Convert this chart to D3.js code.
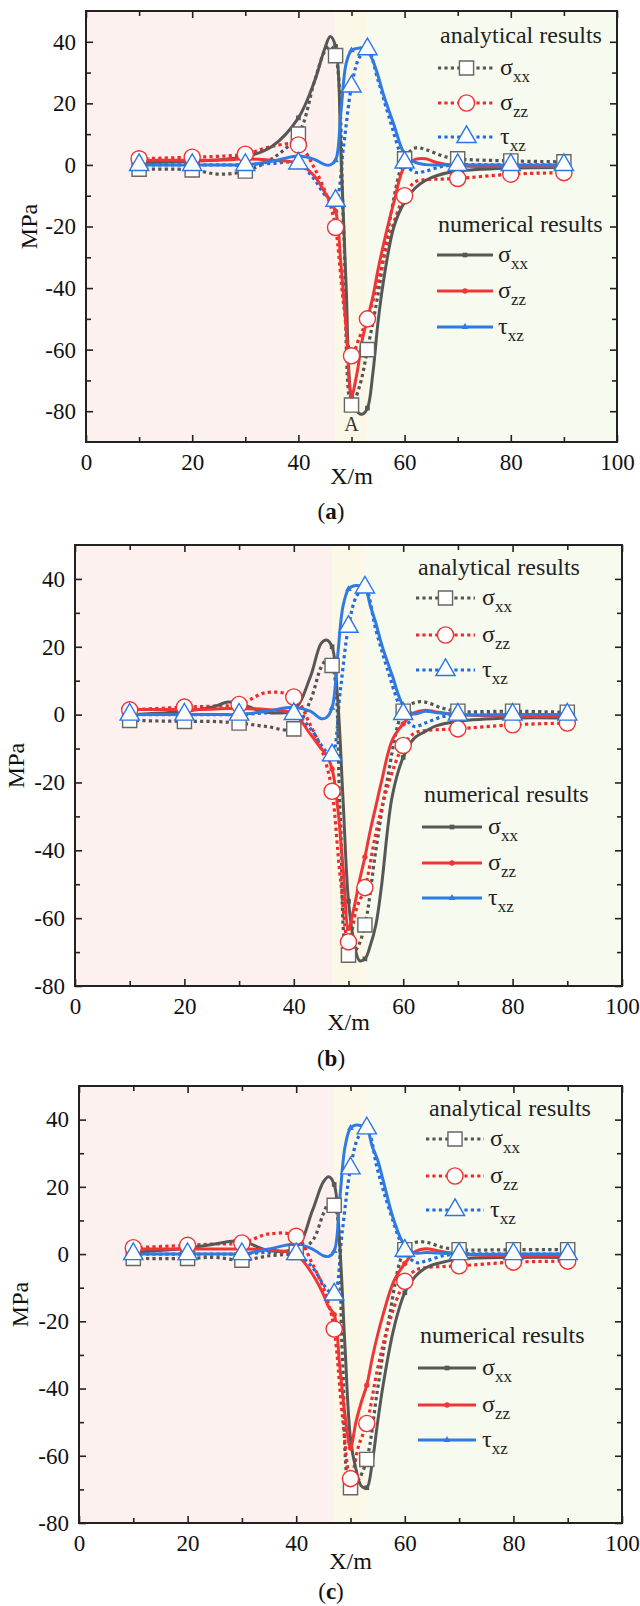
<!DOCTYPE html>
<html><head><meta charset="utf-8">
<script src="https://cdn.jsdelivr.net/npm/d3@7"></script>
<style>body{margin:0;background:#fff} svg{display:block}</style>
</head><body><svg id="c" width="640" height="1606"></svg>
<script>
// ---------- data ----------
const xMajor = [0, 20, 40, 60, 80, 100];
const xMinor = [10, 30, 50, 70, 90];
const bands = [[0, 47], [47, 53], [53, 100]];
const markerX = [10, 20, 30, 40, 47, 50, 53, 60, 70, 80, 90];

// numerical results (solid lines)
const numX = [10,20,25,28,30,35,40,43,45,46,47,48,49,50,51,52,53,54,55,56,58,60,62,64,66,70,80,90];
const aNumSxx = [0.8,1.2,1.6,2.2,2.6,6,15.3,27,38,41.7,38.5,4,-40,-76,-80,-81,-79,-68,-51,-38,-20,-12,-7.5,-5,-3.5,-2,-1,-0.8];
const aNumSzz = [1.5,1.5,1.6,1.8,2,1.5,0.5,-3.6,-9,-12,-15,-32,-53,-75,-68,-57,-50,-43,-34,-26,-12,-0.5,1.8,2,0.8,-0.3,-0.5,-0.5];
const aNumTxz = [0,0,0,0,0,1.2,2.9,1.8,0.1,0,1.5,17,33,37.2,37.8,38,37,34,29,23,13,3.5,0.8,0.1,0,0,0,0];

const bNumSxx = [0,1,2.2,3.7,3.3,0.7,1.5,11,21,22,20,5,-25,-55,-67,-72.5,-72,-68,-62,-51,-24,-12.6,-7,-5,-3.3,-2,-1,-1];
const bNumSzz = [1.5,1.5,1.6,1.8,1.8,1.5,0.3,-5.7,-10,-12,-16,-27,-45,-63,-57,-49,-42,-34,-27,-20,-7.5,-2.7,0.5,1.3,0.8,0,-0.5,-0.5];
const bNumTxz = [0,0,0,0,0,1,2.2,1,-1.2,-0.8,2,17,32,37,38,38,37.5,32,27,21,11.5,2.7,0.2,1,0.6,0,0,0];

const cNumSxx = [0.5,1.8,3,3.8,4,1,1.9,13,21.5,23,20.7,3,-28,-55,-64,-69,-69.5,-62,-50,-39,-22,-11.5,-6.5,-4,-2.8,-1.5,-1,-1];
const cNumSzz = [1.5,1.5,1.5,1.5,1.5,1.2,-0.2,-6,-12,-15.8,-18,-33,-48,-57.7,-50,-44,-39,-31,-24,-18,-8,-2.8,0.8,1.6,1,0,-0.5,-0.5];
const cNumTxz = [0,0,0,0,0,1.5,3,1.5,-0.5,-0.7,0.9,16,32,37.5,38.4,38.2,37.5,32,28,22,10,2.5,0.3,0.5,0.3,0,0,0];

// analytical results (dotted lines, big markers at markerX)
const anaX = [10,20,25,30,35,40,43,45,46,47,48.5,50,51.5,53,55,57,60,62,64,67,70,80,90];
const aAnaSxx = [-1.4,-1.6,-3,-2,2,10,27,37,38.5,35.5,-20,-78,-72,-60,-42,-20,2,5.5,5,3,2,1.3,1];
const aAnaSzz = [2,2.5,2.8,3.5,6,6.5,-1,-8.5,-13,-20.3,-45,-62,-56,-50,-38,-24,-10,-5.5,-4.8,-4.6,-4.4,-3,-2.5];
const aAnaTxz = [0,0,0,0,0.5,0.5,-4.7,-9.8,-11,-11.6,6,25.5,35,37.6,27.5,16,0.8,-2.4,-2,-0.5,0,0,0];

const bAnaSxx = [-1.7,-2,-2,-2.5,-3.5,-4.2,4,14,16,14.5,-30,-70.9,-69,-62,-40,-20,1,3.5,3.7,2,1,1,0.7];
const bAnaSzz = [1.4,2.2,2.5,3,6.5,5.2,-3,-10,-15,-22.6,-48,-67,-57,-51,-35,-22,-9.1,-5.5,-4.7,-4.4,-4.2,-3,-2.5];
const bAnaTxz = [0,0,0,0,0.5,0.2,-4,-9,-11,-12,7,25.9,35,37.5,25,14,0.2,-3.5,-2.5,-0.7,0,0,0];

const cAnaSxx = [-1.3,-1.3,-1,-1.8,-0.5,0.5,4,12,15,14.5,-30,-69.5,-67,-61.1,-40,-20,1.3,3.5,3.5,2,1.3,1.3,1.3];
const cAnaSzz = [1.9,2.6,3,3.3,6,5.3,-3,-10,-15,-22.3,-48,-66.8,-57,-50.4,-34,-21,-8.1,-4.8,-4,-3.7,-3.5,-2.4,-2.1];
const cAnaTxz = [0,0,0,0,0.5,0,-4,-9,-11,-12,7,25.5,35,37.4,25,14,1,-2.5,-2,-0.5,0,0,0];

const seriesKeys = ['sxx', 'szz', 'txz'];
const seriesMain = {sxx: 'σ', szz: 'σ', txz: 'τ'};
const seriesSub = {sxx: 'xx', szz: 'zz', txz: 'xz'};
const legendHeads = ['analytical results', 'numerical results'];
const panelLabels = ['a', 'b', 'c'];

// ---------- styles ----------
const FONT = '"Liberation Serif","Times New Roman",Times,serif';
const bandCol = ['#fdf1f0', '#fbf8e8', '#f6faef'];
const lineCol = {sxx: '#575757', szz: '#ef3636', txz: '#2f7be2'};
const dotCol = {sxx: '#555555', szz: '#f02a2a', txz: '#1f6be4'};
const mkCol = {sxx: '#666666', szz: '#ee3333', txz: '#2a76e6'};
const symType = {sxx: d3.symbolSquare, szz: d3.symbolCircle, txz: d3.symbolTriangle};
const bigSize = {sxx: 200, szz: 205, txz: 160};
const smallSize = {sxx: 22, szz: 22, txz: 20};

const panels = [
  {box: {l: 86, r: 617, t: 11, b: 442}, yDom: [-90, 50], yMajor: [-80,-60,-40,-20,0,20,40], yMinor: [-70,-50,-30,-10,10,30],
   num: {sxx: aNumSxx, szz: aNumSzz, txz: aNumTxz}, ana: {sxx: aAnaSxx, szz: aAnaSzz, txz: aAnaTxz},
   leg: {aHx: 440, aHy: 43, aRows: [68, 103, 137], aL1: 438, aL2: 495, aTx: 500,
         nHx: 438, nHy: 232, nRows: [255, 291, 327], nL1: 437, nL2: 493, nTx: 498},
   yTitleX: 37, xTitleY: 484, labelY: 519, markA: true},
  {box: {l: 75, r: 622, t: 545, b: 986}, yDom: [-80, 50], yMajor: [-80,-60,-40,-20,0,20,40], yMinor: [-70,-50,-30,-10,10,30],
   num: {sxx: bNumSxx, szz: bNumSzz, txz: bNumTxz}, ana: {sxx: bAnaSxx, szz: bAnaSzz, txz: bAnaTxz},
   leg: {aHx: 418, aHy: 575, aRows: [598, 635, 670], aL1: 416, aL2: 475, aTx: 482,
         nHx: 424, nHy: 802, nRows: [827, 863, 898], nL1: 422, nL2: 482, nTx: 488},
   yTitleX: 24, xTitleY: 1030, labelY: 1066, markA: false},
  {box: {l: 79, r: 622, t: 1086, b: 1523}, yDom: [-80, 50], yMajor: [-80,-60,-40,-20,0,20,40], yMinor: [-70,-50,-30,-10,10,30],
   num: {sxx: cNumSxx, szz: cNumSzz, txz: cNumTxz}, ana: {sxx: cAnaSxx, szz: cAnaSzz, txz: cAnaTxz},
   leg: {aHx: 429, aHy: 1116, aRows: [1139, 1176, 1210], aL1: 426, aL2: 484, aTx: 490,
         nHx: 420, nHy: 1343, nRows: [1368, 1405, 1440], nL1: 418, nL2: 476, nTx: 482},
   yTitleX: 28, xTitleY: 1569, labelY: 1599, markA: false}
];

const svg = d3.select('#c');

panels.forEach((p, pi) => {
  const {l, r, t, b} = p.box;
  const x = d3.scaleLinear().domain([0, 100]).range([l, r]);
  const y = d3.scaleLinear().domain(p.yDom).range([b, t]);
  const g = svg.append('g');
  const clipId = 'clip' + pi;
  svg.append('clipPath').attr('id', clipId).append('rect')
    .attr('x', l).attr('y', t).attr('width', r - l).attr('height', b - t);

  // background bands
  g.selectAll('rect.band').data(bands).join('rect').attr('class', 'band')
    .attr('x', d => x(d[0])).attr('y', t).attr('width', d => x(d[1]) - x(d[0])).attr('height', b - t)
    .attr('fill', (d, i) => bandCol[i]);

  const plot = g.append('g').attr('clip-path', `url(#${clipId})`);
  const line = d3.line().x(d => x(d[0])).y(d => y(d[1])).curve(d3.curveCatmullRom.alpha(0.5));

  // analytical dotted lines
  seriesKeys.forEach(k => {
    const pts = anaX.map((xv, i) => [xv, p.ana[k][i]]);
    plot.append('path').attr('d', line(pts)).attr('fill', 'none')
      .attr('stroke', dotCol[k]).attr('stroke-width', 3.2).attr('stroke-dasharray', '3.2,3.2');
  });
  // numerical solid lines
  seriesKeys.forEach(k => {
    const pts = numX.map((xv, i) => [xv, p.num[k][i]]);
    plot.append('path').attr('d', line(pts)).attr('fill', 'none')
      .attr('stroke', lineCol[k]).attr('stroke-width', 3);
    const mk = pts.filter(d => markerX.includes(d[0]));
    plot.selectAll(null).data(mk).join('path')
      .attr('d', d3.symbol().type(symType[k]).size(smallSize[k]))
      .attr('transform', d => `translate(${x(d[0])},${y(d[1])})`)
      .attr('fill', lineCol[k]);
  });
  // analytical markers
  seriesKeys.forEach(k => {
    const pts = anaX.map((xv, i) => [xv, p.ana[k][i]]).filter(d => markerX.includes(d[0]));
    plot.selectAll(null).data(pts).join('path')
      .attr('d', d3.symbol().type(symType[k]).size(bigSize[k]))
      .attr('transform', d => `translate(${x(d[0])},${y(d[1])})`)
      .attr('fill', '#fff').attr('stroke', mkCol[k]).attr('stroke-width', 1.4);
  });

  if (p.markA) {
    g.append('text').attr('x', x(50)).attr('y', y(-80) + 20).attr('text-anchor', 'middle')
      .attr('font-family', FONT).attr('font-size', 20).attr('fill', '#333').text('A');
  }

  // axes
  const fmt = d => String(d);
  const styleAxis = (sel) => {
    sel.select('.domain').remove();
    sel.selectAll('line').attr('stroke', '#222').attr('stroke-width', 1.6);
    sel.selectAll('text').attr('font-family', FONT).attr('font-size', 23).attr('fill', '#111');
  };
  g.append('g').attr('transform', `translate(${l},0)`)
    .call(d3.axisLeft(y).tickValues(p.yMajor).tickFormat(fmt).tickSizeInner(-7).tickSizeOuter(0).tickPadding(10)).call(styleAxis);
  g.append('g').attr('transform', `translate(${l},0)`)
    .call(d3.axisLeft(y).tickValues(p.yMinor).tickFormat('').tickSizeInner(-5).tickSizeOuter(0)).call(styleAxis);
  g.append('g').attr('transform', `translate(${r},0)`)
    .call(d3.axisRight(y).tickValues(p.yMajor).tickFormat('').tickSizeInner(-7).tickSizeOuter(0)).call(styleAxis);
  g.append('g').attr('transform', `translate(${r},0)`)
    .call(d3.axisRight(y).tickValues(p.yMinor).tickFormat('').tickSizeInner(-5).tickSizeOuter(0)).call(styleAxis);
  g.append('g').attr('transform', `translate(0,${b})`)
    .call(d3.axisBottom(x).tickValues(xMajor).tickFormat(fmt).tickSizeInner(-7).tickSizeOuter(0).tickPadding(12)).call(styleAxis);
  g.append('g').attr('transform', `translate(0,${b})`)
    .call(d3.axisBottom(x).tickValues(xMinor).tickFormat('').tickSizeInner(-5).tickSizeOuter(0)).call(styleAxis);
  g.append('g').attr('transform', `translate(0,${t})`)
    .call(d3.axisTop(x).tickValues(xMajor).tickFormat('').tickSizeInner(-7).tickSizeOuter(0)).call(styleAxis);
  g.append('g').attr('transform', `translate(0,${t})`)
    .call(d3.axisTop(x).tickValues(xMinor).tickFormat('').tickSizeInner(-5).tickSizeOuter(0)).call(styleAxis);

  g.append('rect').attr('x', l).attr('y', t).attr('width', r - l).attr('height', b - t)
    .attr('fill', 'none').attr('stroke', '#222').attr('stroke-width', 2);

  // axis titles
  g.append('text').attr('transform', `translate(${p.yTitleX},${(t + b) / 2}) rotate(-90)`)
    .attr('text-anchor', 'middle').attr('font-family', FONT).attr('font-size', 24).attr('fill', '#111').text('MPa');
  g.append('text').attr('x', x(50)).attr('y', p.xTitleY).attr('text-anchor', 'middle')
    .attr('font-family', FONT).attr('font-size', 24).attr('fill', '#111').text('X/m');

  // panel label
  const lab = g.append('text').attr('x', 331).attr('y', p.labelY).attr('text-anchor', 'middle')
    .attr('font-family', FONT).attr('font-size', 23).attr('fill', '#111');
  lab.append('tspan').text('(');
  lab.append('tspan').attr('font-weight', 'bold').text(panelLabels[pi]);
  lab.append('tspan').text(')');

  // legend
  const L = p.leg;
  const lg = g.append('g');
  lg.append('text').attr('x', L.aHx).attr('y', L.aHy).attr('font-family', FONT).attr('font-size', 24)
    .attr('fill', '#222').text(legendHeads[0]);
  lg.append('text').attr('x', L.nHx).attr('y', L.nHy).attr('font-family', FONT).attr('font-size', 24)
    .attr('fill', '#222').text(legendHeads[1]);
  const rowText = (tx, ry, k) => {
    const tt = lg.append('text').attr('x', tx).attr('y', ry + 7).attr('font-family', FONT)
      .attr('font-size', 24).attr('fill', '#222');
    tt.append('tspan').text(seriesMain[k]);
    tt.append('tspan').attr('font-size', 17).attr('dy', 7).text(seriesSub[k]);
  };
  seriesKeys.forEach((k, i) => {
    const ry = L.aRows[i];
    lg.append('line').attr('x1', L.aL1).attr('x2', L.aL2).attr('y1', ry).attr('y2', ry)
      .attr('stroke', dotCol[k]).attr('stroke-width', 3.2).attr('stroke-dasharray', '3.2,3.2');
    lg.append('path').attr('d', d3.symbol().type(symType[k]).size(bigSize[k])())
      .attr('transform', `translate(${(L.aL1 + L.aL2) / 2},${ry})`)
      .attr('fill', '#fff').attr('stroke', mkCol[k]).attr('stroke-width', 1.4);
    rowText(L.aTx, ry, k);
    const ny = L.nRows[i];
    lg.append('line').attr('x1', L.nL1).attr('x2', L.nL2).attr('y1', ny).attr('y2', ny)
      .attr('stroke', lineCol[k]).attr('stroke-width', 3);
    lg.append('path').attr('d', d3.symbol().type(symType[k]).size(smallSize[k])())
      .attr('transform', `translate(${(L.nL1 + L.nL2) / 2},${ny})`).attr('fill', lineCol[k]);
    rowText(L.nTx, ny, k);
  });
});
</script></body></html>
